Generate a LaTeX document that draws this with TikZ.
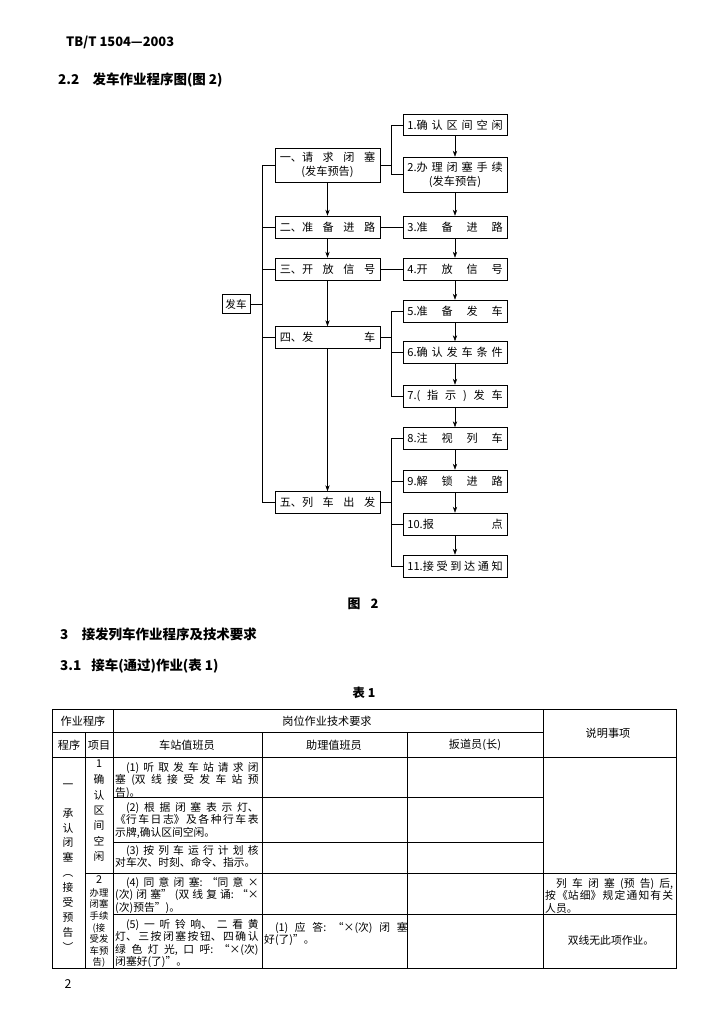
\documentclass[tikz,border=0pt]{standalone}
\usepackage{fontspec}
\setmainfont{Noto Sans CJK SC}
\usetikzlibrary{arrows.meta}
\XeTeXlinebreaklocale "zh"
\XeTeXlinebreakskip=0pt plus 4pt
\hbadness=10000
\hfuzz=6pt

\newcommand{\spread}[1]{\makebox[28.6mm][s]{#1}}

\tikzset{
  stage/.style={draw, line width=0.5pt, minimum width=31.5mm, minimum height=6.6mm,
    inner sep=0.4mm, align=center, font=\fontsize{9.5}{12}\selectfont},
  task/.style={stage, minimum width=31.2mm},
  cell/.style={anchor=north west, inner sep=0pt, text width=43mm, align=justify,
    font=\fontsize{9.2}{10.6}\selectfont},
  title/.style={anchor=west, inner sep=0pt, font=\bfseries\fontsize{11.5}{14}\selectfont},
  thead/.style={inner sep=0pt, font=\fontsize{9.5}{11}\selectfont},
  vtext/.style={inner sep=0pt, align=center, font=\fontsize{9.2}{12.7}\selectfont},
}

\begin{document}
\begin{tikzpicture}[x=0.3mm, y=-0.3mm, >={Stealth[length=1.8mm,width=1.3mm]}]
\useasboundingbox (0,0) rectangle (718,1024);

% page heading
\node[title, font=\bfseries\fontsize{11}{13}\selectfont] (code) at (66,42) {TB/T 1504—2003};
\node[title] (sec22) at (58,80) {2.2\hspace{4mm}发车作业程序图(图 2)};

% start
\node[draw, line width=0.5pt, minimum width=8.4mm, minimum height=5.6mm, inner sep=0.4mm,
  font=\fontsize{9}{11}\selectfont] (go) at (236,304) {发车};

% left column
\node[stage, minimum height=10.2mm] (s1) at (327.5,165) {\spread{一、请\hfill 求\hfill 闭\hfill 塞}\\(发车预告)};
\node[stage] (s2) at (327.5,227) {\spread{二、准\hfill 备\hfill 进\hfill 路}};
\node[stage] (s3) at (327.5,269) {\spread{三、开\hfill 放\hfill 信\hfill 号}};
\node[stage] (s4) at (327.5,337.5) {\spread{四、发\hfill 车}};
\node[stage] (s5) at (327.5,502.5) {\spread{五、列\hfill 车\hfill 出\hfill 发}};

% right column
\node[task, minimum height=6.2mm] (t1) at (455,125) {\spread{1.确\hfill 认\hfill 区\hfill 间\hfill 空\hfill 闲}};
\node[task, minimum height=10.5mm] (t2) at (455,174.5) {\spread{2.办\hfill 理\hfill 闭\hfill 塞\hfill 手\hfill 续}\\(发车预告)};
\node[task] (t3) at (455,227) {\spread{3.准\hfill 备\hfill 进\hfill 路}};
\node[task] (t4) at (455,269) {\spread{4.开\hfill 放\hfill 信\hfill 号}};
\node[task] (t5) at (455,311) {\spread{5.准\hfill 备\hfill 发\hfill 车}};
\node[task] (t6) at (455,352.5) {\spread{6.确\hfill 认\hfill 发\hfill 车\hfill 条\hfill 件}};
\node[task] (t7) at (455,396) {\spread{7.(\hfill 指\hfill 示\hfill )\hfill 发\hfill 车}};
\node[task] (t8) at (455,438.5) {\spread{8.注\hfill 视\hfill 列\hfill 车}};
\node[task] (t9) at (455,481) {\spread{9.解\hfill 锁\hfill 进\hfill 路}};
\node[task] (t10) at (455,524) {\spread{10.报\hfill 点}};
\node[task] (t11) at (455,566) {\spread{11.接\hfill 受\hfill 到\hfill 达\hfill 通\hfill 知}};

% bus and brackets
\coordinate (bus) at (262,304);
\coordinate (b1) at (391,165);
\coordinate (b4) at (391,337.5);
\coordinate (b5) at (391,502.5);
\draw[line width=0.5pt] (go.east) -- (bus);
\foreach \s in {s1,s2,s3,s4,s5}
  \draw[line width=0.5pt] (\s.west) -| (bus);
\draw[line width=0.5pt] (s1.east) -- (b1);
\foreach \t in {t1,t2}
  \draw[line width=0.5pt] (\t.west) -| (b1);
\draw[line width=0.5pt] (s2) -- (t3);
\draw[line width=0.5pt] (s3) -- (t4);
\draw[line width=0.5pt] (s4.east) -- (b4);
\foreach \t in {t5,t6,t7}
  \draw[line width=0.5pt] (\t.west) -| (b4);
\draw[line width=0.5pt] (s5.east) -- (b5);
\foreach \t in {t8,t9,t10,t11}
  \draw[line width=0.5pt] (\t.west) -| (b5);

% arrows down each column
\foreach \a/\b in {s1/s2,s2/s3,s3/s4,s4/s5}
  \draw[->, line width=0.5pt] (\a) -- (\b);
\foreach \a/\b in {t1/t2,t2/t3,t3/t4,t4/t5,t5/t6,t6/t7,t7/t8,t8/t9,t9/t10,t10/t11}
  \draw[->, line width=0.5pt] (\a) -- (\b);

\node[font=\bfseries\fontsize{11}{13}\selectfont] (fig) at (363,604) {图\hspace{3mm}2};

% section 3
\node[title] (sec3) at (60,634) {3\hspace{4mm}接发列车作业程序及技术要求};
\node[title] (sec31) at (60,666) {3.1\hspace{3mm}接车(通过)作业(表 1)};
\node[font=\bfseries\fontsize{10.5}{12}\selectfont] (tab) at (364,693) {表 1};

% table 1 rules
\draw[line width=0.7pt] (52,709) rectangle (676,968);
\draw[line width=0.5pt] (52,732) -- (543,732);
\draw[line width=0.5pt] (52,757) -- (676,757);
\draw[line width=0.5pt] (113,709) -- (113,968);
\draw[line width=0.5pt] (543,709) -- (543,968);
\draw[line width=0.5pt] (85,732) -- (85,968);
\draw[line width=0.5pt] (262,732) -- (262,968);
\draw[line width=0.5pt] (407,732) -- (407,968);
\draw[line width=0.5pt] (113,797) -- (543,797);
\draw[line width=0.5pt] (113,842) -- (543,842);
\draw[line width=0.5pt] (85,873) -- (676,873);
\draw[line width=0.5pt] (113,914) -- (676,914);

% table 1 heads
\node[thead] (h1) at (83,721) {作业程序};
\node[thead] (h2) at (327,721) {岗位作业技术要求};
\node[thead] (h3) at (608,733) {说明事项};
\node[thead] (h4) at (69,745) {程序};
\node[thead] (h5) at (99,745) {项目};
\node[thead] (h6) at (187,745) {车站值班员};
\node[thead] (h7) at (334,745) {助理值班员};
\node[thead] (h8) at (475,745) {扳道员(长)};

% program and items
\node[vtext] (p0) at (68,786) {一};
\node[vtext, font=\fontsize{9.2}{12.76}\selectfont] (p1) at (68,880) {承\\认\\闭\\塞\\︵\\接\\受\\预\\告\\︶};
\node[vtext] (i1) at (99,764) {1};
\node[vtext, font=\fontsize{9.2}{13.1}\selectfont] (i1t) at (99,818) {确\\认\\区\\间\\空\\闲};
\node[vtext] (i2) at (99,880) {2};
\node[vtext, font=\fontsize{8}{9.9}\selectfont] (i2t) at (99,928) {办理\\闭塞\\手续\\(接\\受发\\车预\\告)};

% station master
\node[cell] (c1) at (115,762) {\hspace*{1em}(1)听取发车站请求闭\linebreak 塞(双线接受发车站预\linebreak 告)。};
\node[cell] (c2) at (115,802) {\hspace*{1em}(2)根据闭塞表示灯、\linebreak 《行车日志》及各种行车表\linebreak 示牌,确认区间空闲。};
\node[cell] (c3) at (115,845) {\hspace*{1em}(3)按列车运行计划核\linebreak 对车次、时刻、命令、指示。};
\node[cell] (c4) at (115,877) {\hspace*{1em}(4)同意闭塞:“同意×\linebreak (次)闭塞”(双线复诵:“×\linebreak (次)预告”)。};
\node[cell] (c5) at (115,919) {\hspace*{1em}(5)一听铃响、二看黄\linebreak 灯、三按闭塞按钮、四确认\linebreak 绿色灯光,口呼:“×(次)\linebreak 闭塞好(了)”。};

% assistant
\node[cell] (a5) at (264,922) {\hspace*{1em}(1)应答:“×(次)闭塞\linebreak 好(了)”。};

% remarks
\node[cell, text width=38.4mm] (r4) at (545,878) {\hspace*{1em}列车闭塞(预告)后,\linebreak 按《站细》规定通知有关\linebreak 人员。};
\node[thead, font=\fontsize{9.2}{11}\selectfont] (r5) at (611,940) {双线无此项作业。};

\node[font=\fontsize{10.5}{12}\selectfont] (page) at (68,984) {2};
\end{tikzpicture}
\end{document}
